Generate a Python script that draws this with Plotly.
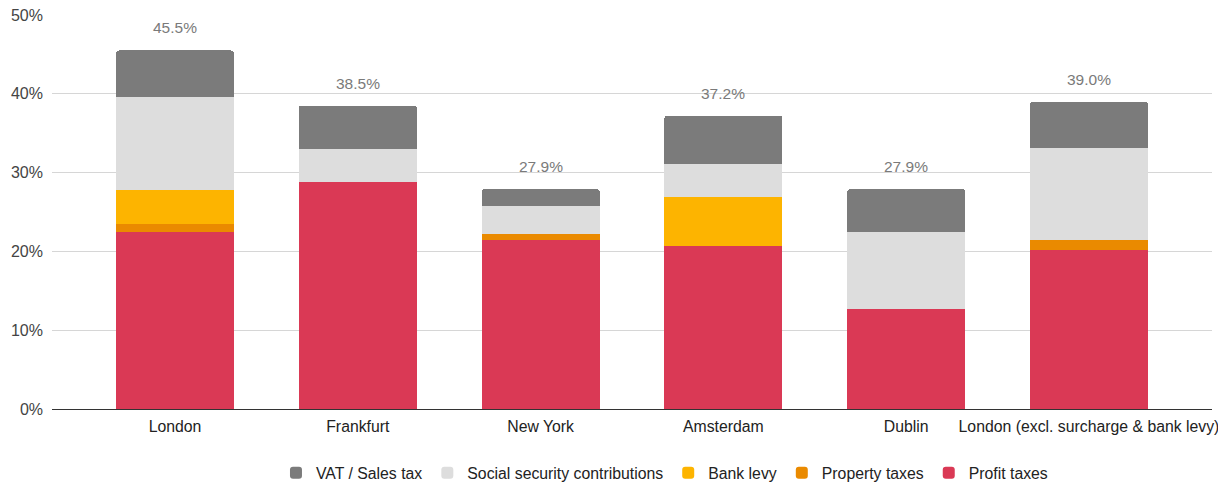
import plotly.graph_objects as go

cities = ["London", "Frankfurt", "New York", "Amsterdam", "Dublin",
          "London (excl. surcharge & bank levy)"]

profit_taxes = [22.5, 28.8, 21.5, 20.7, 12.7, 20.2]
property_taxes = [1.0, 0.0, 0.7, 0.0, 0.0, 1.2]
bank_levy = [4.3, 0.0, 0.0, 6.2, 0.0, 0.0]
social_security = [11.8, 4.2, 3.5, 4.2, 9.7, 11.7]
vat_sales = [5.9, 5.5, 2.2, 6.1, 5.5, 5.9]

y_ticks = [0, 10, 20, 30, 40, 50]
y_tick_labels = ["0%", "10%", "20%", "30%", "40%", "50%"]

series = [
    ("Profit taxes", profit_taxes, "#da3955"),
    ("Property taxes", property_taxes, "#ea8a00"),
    ("Bank levy", bank_levy, "#fdb400"),
    ("Social security contributions", social_security, "#dddddd"),
    ("VAT / Sales tax", vat_sales, "#7b7b7b"),
]

FONT = "Liberation Sans, Arial, sans-serif"

fig = go.Figure()
for name, vals, color in series:
    fig.add_trace(go.Bar(
        name=name, x=cities, y=vals,
        marker=dict(color=color, line=dict(width=0)),
        hoverinfo="name+y",
    ))

# stack totals written above each bar
totals = [round(sum(v), 1) for v in zip(*[s[1] for s in series])]
for city, tot in zip(cities, totals):
    fig.add_annotation(
        x=city, y=tot, text=f"{tot:.1f}%", showarrow=False,
        yanchor="bottom", yshift=12,
        font=dict(family=FONT, size=15.5, color="#7a7a7a"),
    )

fig.update_layout(
    barmode="stack",
    bargap=0.354,
    barcornerradius=3,
    width=1218, height=484,
    margin=dict(l=52, r=6, t=15, b=75),
    paper_bgcolor="white", plot_bgcolor="white",
    font=dict(family=FONT, size=16, color="#222222"),
    legend=dict(
        orientation="h", traceorder="reversed",
        x=0.528, xanchor="center", y=0.023, yref="container", yanchor="middle",
        font=dict(size=15.8, color="#222222"),
        itemwidth=30,
    ),
    xaxis=dict(
        range=[-0.673, 5.673], showgrid=False, ticks="",
        tickfont=dict(size=15.8, color="#222222"),
        showline=False, automargin=False, ticklabelstandoff=6,
    ),
    yaxis=dict(
        range=[0, 50], tickvals=y_ticks, ticktext=y_tick_labels,
        showgrid=True, gridcolor="#d6d6d6", gridwidth=1,
        zeroline=True, zerolinecolor="#333333", zerolinewidth=1,
        tickfont=dict(size=16, color="#444444"),
        ticklabelstandoff=8, automargin=False,
    ),
)

fig.write_html("out.html")
